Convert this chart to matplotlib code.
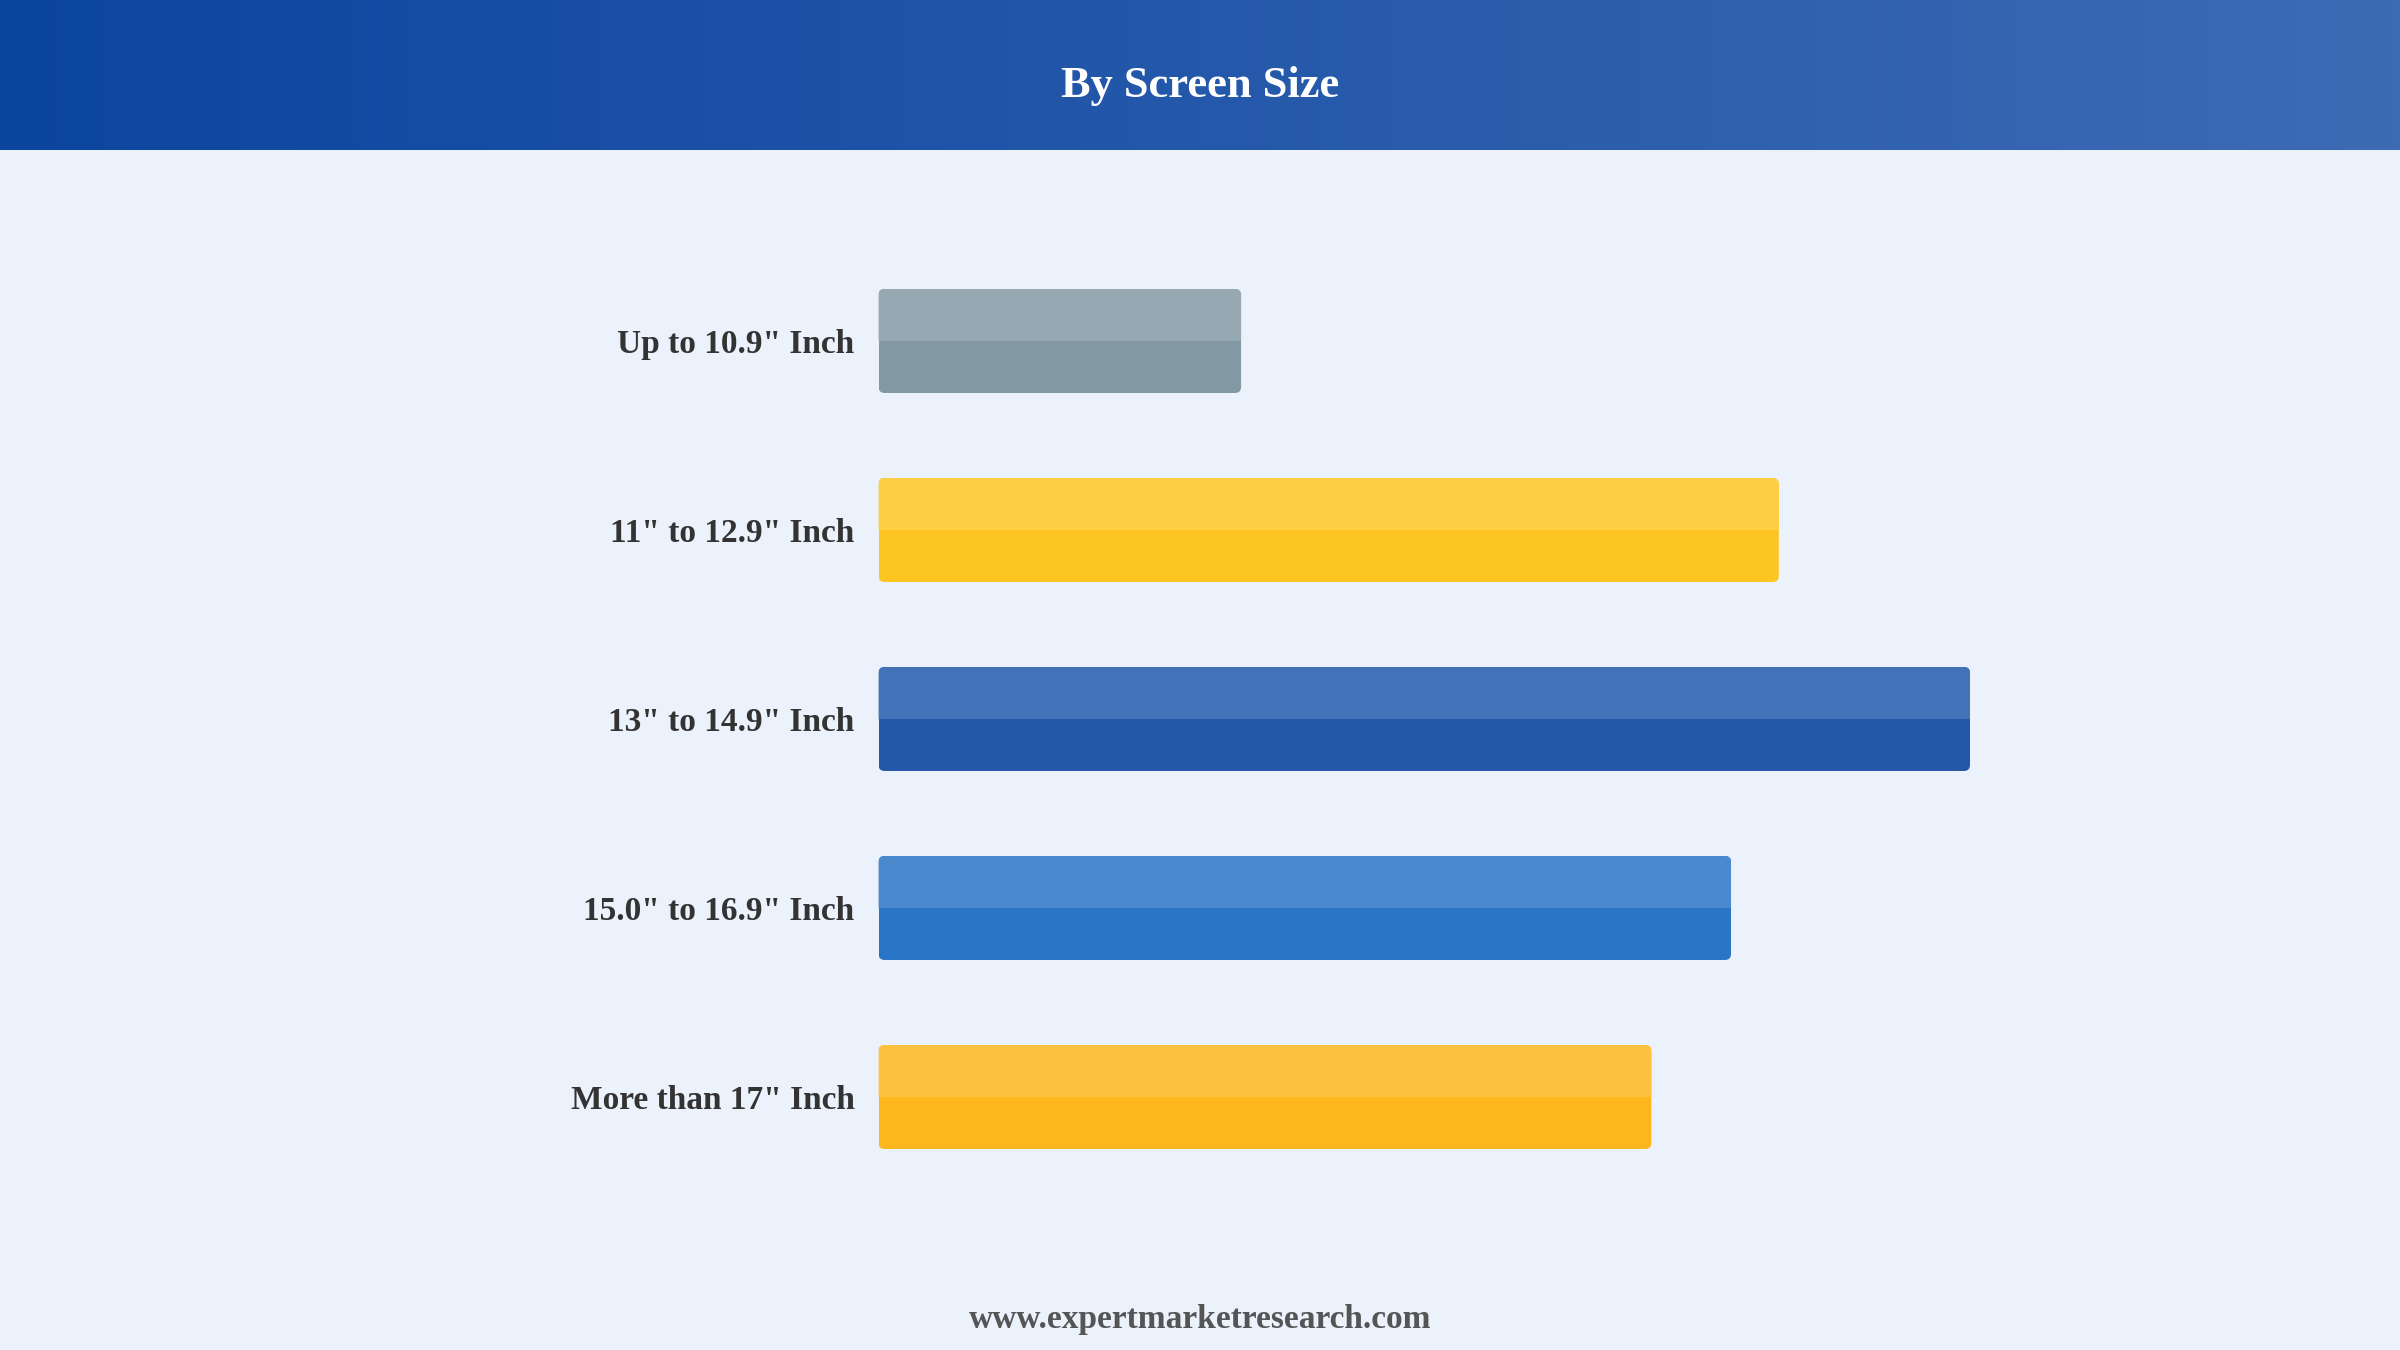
import numpy as np
import matplotlib
matplotlib.use("Agg")
import matplotlib.pyplot as plt
from matplotlib.patches import FancyBboxPatch, Rectangle
from matplotlib.colors import LinearSegmentedColormap

categories = ['Up to 10.9" Inch', '11" to 12.9" Inch', '13" to 14.9" Inch',
              '15.0" to 16.9" Inch', 'More than 17" Inch']
values = [9.1, 22.6, 27.4, 21.4, 19.4]
dark_colors = ['#8299A4', '#FCC521', '#2358A8', '#2A74C6', '#FDB71C']
light_colors = ['#96A8B2', '#FECE45', '#4472B8', '#4B89CF', '#FEC240']
title = 'By Screen Size'
footer = 'www.expertmarketresearch.com'

W, H = 2400, 1350
fig = plt.figure(figsize=(24, 13.5), dpi=100)
fig.patch.set_facecolor('#EBF2FB')

# header gradient
hdr_h = 150
hax = fig.add_axes([0, 1 - hdr_h / H, 1, hdr_h / H])
cmap = LinearSegmentedColormap.from_list('hdr', ['#0C45A0', '#2458AA', '#3D6BB4'])
grad = np.linspace(0, 1, 512).reshape(1, -1)
hax.imshow(grad, aspect='auto', cmap=cmap, extent=[0, 1, 0, 1])
hax.set_axis_off()
fig.text(0.5, 1 - 82 / H, title, ha='center', va='center_baseline', color='white',
         fontsize=32, fontweight='bold', family='Liberation Serif')

# bar axes
left_px, right_px = 878.6, 1970
top_px, bot_px = 246.5, 1191.5
ax = fig.add_axes([left_px / W, 1 - bot_px / H, (right_px - left_px) / W, (bot_px - top_px) / H])
ax.set_facecolor('none')
ypos = np.arange(len(categories))
bar_h = 0.55
bars = ax.barh(ypos, values, height=bar_h, color=dark_colors)
ax.set_xlim(0, max(values))
ax.set_ylim(len(categories) - 0.5, -0.5)
ax.set_axis_off()

xpp = max(values) / (right_px - left_px)
ypp = len(categories) / (bot_px - top_px)
aspect = ypp / xpp
r = 6 * xpp
for i, b in enumerate(bars):
    x, y, w, h = b.get_x(), b.get_y(), b.get_width(), b.get_height()
    b.set_visible(False)
    base = FancyBboxPatch((x, y), w, h, boxstyle=f'round,pad=0,rounding_size={r}',
                          mutation_aspect=aspect, facecolor=dark_colors[i],
                          edgecolor='none', zorder=2)
    ax.add_patch(base)
    top = FancyBboxPatch((x, y), w, h, boxstyle=f'round,pad=0,rounding_size={r}',
                         mutation_aspect=aspect, facecolor=light_colors[i],
                         edgecolor='none', zorder=3)
    ax.add_patch(top)
    clip = Rectangle((x - 1, min(y, y + h) - 1), w + 2, 1 + h / 2, transform=ax.transData)
    top.set_clip_path(clip)
    ax.text(-24 * xpp, ypos[i], categories[i], ha='right', va='center_baseline',
            fontsize=24, fontweight='bold', color='#333333', family='Liberation Serif')

fig.text(0.5, 1 - 1316 / H, footer, ha='center', va='center_baseline', color='#555555',
         fontsize=24, fontweight='bold', family='Liberation Serif')

fig.savefig('out.png', dpi=100, facecolor=fig.get_facecolor())
